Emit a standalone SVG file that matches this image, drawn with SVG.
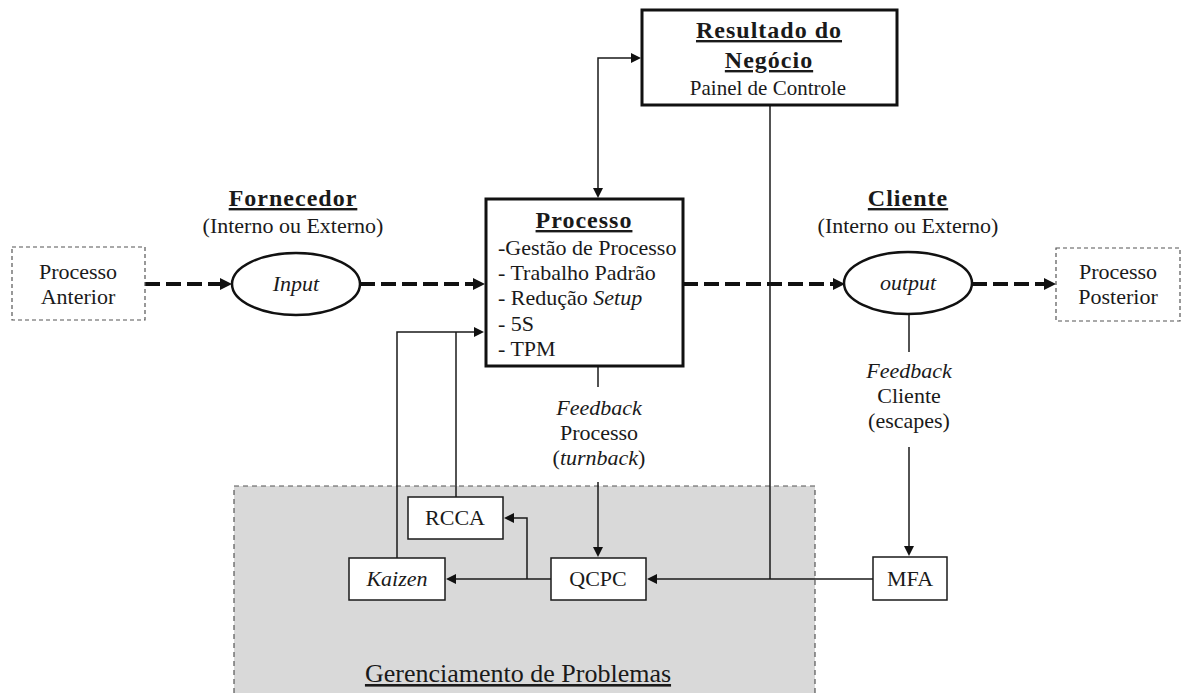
<svg xmlns="http://www.w3.org/2000/svg" width="1185" height="693" viewBox="0 0 1185 693">
<style>
text{font-family:"Liberation Serif","Times New Roman",serif;font-size:22px;fill:#1a1a1a}
.t{font-weight:bold;font-size:24px;letter-spacing:1px;text-decoration:underline}
.c{text-anchor:middle}
.i{font-style:italic}
.ln{fill:none;stroke:#1a1a1a;stroke-width:1.5}
.dash{fill:none;stroke:#111;stroke-width:4;stroke-dasharray:15 6}
.box{fill:#fff;stroke:#1a1a1a;stroke-width:1.5}
.bold{fill:#fff;stroke:#111;stroke-width:3}
.dbox{fill:#fff;stroke:#555;stroke-width:1.2;stroke-dasharray:4 3}
</style>
<defs>
<marker id="a" viewBox="0 0 10 10" refX="0" refY="5" markerWidth="11" markerHeight="10" markerUnits="userSpaceOnUse" orient="auto-start-reverse"><path d="M0,0 L10,5 L0,10 z" fill="#111"/></marker>
<marker id="ab" viewBox="0 0 10 10" refX="0" refY="5" markerWidth="12" markerHeight="12" markerUnits="userSpaceOnUse" orient="auto"><path d="M0,0 L10,5 L0,10 z" fill="#111"/></marker>
</defs>
<g id="gerenciamento">
<rect x="234" y="486" width="581" height="220" fill="#d9d9d9" stroke="#555" stroke-width="1.2" stroke-dasharray="5 4"/>
<text class="c" x="518" y="682" style="font-size:26px;text-decoration:underline">Gerenciamento de Problemas</text>
</g>
<g id="connectors">
<path class="dash" d="M145,284 H220" marker-end="url(#ab)"/>
<path class="dash" d="M360,284 H473" marker-end="url(#ab)"/>
<path class="dash" d="M683,284 H833" marker-end="url(#ab)"/>
<path class="dash" d="M972,284 H1044" marker-end="url(#ab)"/>
<path class="ln" d="M598,188 V58 H631" marker-start="url(#a)" marker-end="url(#a)"/>
<path class="ln" d="M770,105 V579"/>
<path class="ln" d="M873,579 H657" marker-end="url(#a)"/>
<path class="ln" d="M551,579 H456" marker-end="url(#a)"/>
<path class="ln" d="M527,579 V518 H514" marker-end="url(#a)"/>
<path class="ln" d="M397,558 V332 H474" marker-end="url(#a)"/>
<path class="ln" d="M456,497 V332"/>
<path class="ln" d="M598,366 V387"/>
<path class="ln" d="M598,482 V547" marker-end="url(#a)"/>
<path class="ln" d="M909,314 V352"/>
<path class="ln" d="M909,447 V546" marker-end="url(#a)"/>
</g>
<g id="resultado">
<rect class="bold" x="642" y="10" width="255" height="95"/>
<text class="t c" x="769" y="38">Resultado do</text>
<text class="t c" x="769" y="68">Negócio</text>
<text class="c" x="768" y="95" style="font-size:21px">Painel de Controle</text>
</g>
<g id="fornecedor">
<text class="t c" x="293" y="206">Fornecedor</text>
<text class="c" x="293" y="233">(Interno ou Externo)</text>
</g>
<g id="cliente">
<text class="t c" x="908" y="206">Cliente</text>
<text class="c" x="908" y="233">(Interno ou Externo)</text>
</g>
<g id="anterior">
<rect class="dbox" x="12" y="247" width="133" height="73"/>
<text class="c" x="78" y="279">Processo</text>
<text class="c" x="78" y="304">Anterior</text>
</g>
<g id="posterior">
<rect class="dbox" x="1056" y="248" width="124" height="73"/>
<text class="c" x="1118" y="279">Processo</text>
<text class="c" x="1118" y="304">Posterior</text>
</g>
<g id="input">
<ellipse cx="296" cy="284" rx="64" ry="31" fill="#fff" stroke="#111" stroke-width="2.5"/>
<text class="c i" x="296" y="291">Input</text>
</g>
<g id="output">
<ellipse cx="908" cy="283" rx="64" ry="31" fill="#fff" stroke="#111" stroke-width="2.5"/>
<text class="c i" x="908" y="290">output</text>
</g>
<g id="processo">
<rect class="bold" x="486" y="199" width="197" height="167"/>
<text class="t c" x="584" y="228">Processo</text>
<text x="498" y="255">-Gestão de Processo</text>
<text x="498" y="280">- Trabalho  Padrão</text>
<text x="498" y="305">- Redução <tspan class="i">Setup</tspan></text>
<text x="498" y="331">- 5S</text>
<text x="498" y="356">- TPM</text>
</g>
<g id="feedback-processo">
<text class="c i" x="599" y="415">Feedback</text>
<text class="c" x="599" y="440">Processo</text>
<text class="c" x="599" y="465">(<tspan class="i">turnback</tspan>)</text>
</g>
<g id="feedback-cliente">
<text class="c i" x="909" y="378">Feedback</text>
<text class="c" x="909" y="403">Cliente</text>
<text class="c" x="909" y="428">(escapes)</text>
</g>
<g id="rcca">
<rect class="box" x="408" y="497" width="95" height="42"/>
<text class="c" x="455" y="525">RCCA</text>
</g>
<g id="kaizen">
<rect class="box" x="349" y="558" width="96" height="42"/>
<text class="c i" x="397" y="586">Kaizen</text>
</g>
<g id="qcpc">
<rect class="box" x="551" y="558" width="95" height="42"/>
<text class="c" x="598" y="586">QCPC</text>
</g>
<g id="mfa">
<rect class="box" x="873" y="557" width="74" height="43"/>
<text class="c" x="910" y="586">MFA</text>
</g>
</svg>
